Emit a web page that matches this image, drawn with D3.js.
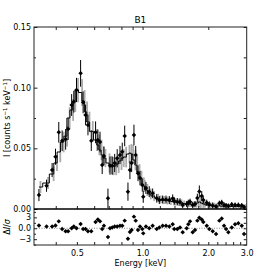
<!DOCTYPE html>
<html>
<head>
<meta charset="utf-8">
<script src="https://cdn.jsdelivr.net/npm/d3@7"></script>
<style>
body { margin: 0; background: #fff; }
text { font-family: "DejaVu Sans", sans-serif; fill: #000; }
</style>
</head>
<body>
<div id="zone_graphique"></div>
<script>
// donnees
var energie = [0.335,0.363,0.385,0.399,0.413,0.428,0.444,0.456,0.473,0.484,
    0.498,0.520,0.534,0.548,0.562,0.582,0.609,0.624,0.638,0.653,
    0.665,0.694,0.709,0.726,0.745,0.765,0.788,0.807,0.828,0.857,
    0.875,0.891,0.913,0.930,0.953,0.973,0.997,1.007,1.036,1.073,
    1.112,1.161,1.193,1.236,1.280,1.326,1.374,1.397,1.443,1.484,
    1.527,1.593,1.620,1.650,1.697,1.739,1.782,1.820,1.867,1.898,
    1.968,2.022,2.096,2.171,2.248,2.305,2.362,2.413,2.472,2.562,
    2.653,2.747,2.847,2.918];
var flux = [0.0115,0.0192,0.0321,0.0431,0.0632,0.0563,0.0574,0.0659,0.0857,0.0884,
    0.0981,0.1118,0.0879,0.0775,0.0692,0.0563,0.0632,0.0569,0.0552,0.0363,
    0.0437,0.0088,0.0357,0.0357,0.0379,0.0418,0.0445,0.0472,0.0602,0.0143,
    0.0321,0.0379,0.0610,0.0445,0.0294,0.0255,0.0198,0.0101,0.0173,0.0143,
    0.0129,0.0088,0.0074,0.0078,0.0078,0.0074,0.0087,0.0066,0.0060,0.0058,
    0.0033,0.0041,0.0052,0.0060,0.0033,0.0041,0.0091,0.0144,0.0107,0.0074,
    0.0052,0.0037,0.0029,0.0021,0.0047,0.0054,0.0033,0.0029,0.0025,0.0037,
    0.0033,0.0033,0.0029,0.0016];
var erreur = [0.0050,0.0050,0.0058,0.0066,0.0085,0.0085,0.0085,0.0090,0.0090,0.0090,
    0.0100,0.0110,0.0090,0.0085,0.0085,0.0085,0.0090,0.0085,0.0085,0.0075,
    0.0075,0.0080,0.0075,0.0075,0.0075,0.0075,0.0075,0.0075,0.0085,0.0075,
    0.0075,0.0075,0.0085,0.0075,0.0065,0.0060,0.0055,0.0050,0.0050,0.0045,
    0.0040,0.0035,0.0033,0.0033,0.0033,0.0033,0.0033,0.0030,0.0030,0.0030,
    0.0025,0.0025,0.0025,0.0025,0.0025,0.0025,0.0035,0.0050,0.0040,0.0030,
    0.0025,0.0025,0.0025,0.0022,0.0022,0.0022,0.0022,0.0020,0.0020,0.0020,
    0.0020,0.0020,0.0020,0.0018];
var modele = [0.0181,0.0214,0.0288,0.0379,0.0470,0.0552,0.0600,0.0750,0.0816,0.0890,
    0.0980,0.0960,0.0890,0.0800,0.0717,0.0640,0.0569,0.0527,0.0486,0.0445,
    0.0420,0.0379,0.0363,0.0354,0.0354,0.0371,0.0396,0.0420,0.0428,0.0453,
    0.0461,0.0453,0.0404,0.0363,0.0305,0.0255,0.0206,0.0190,0.0157,0.0124,
    0.0107,0.0091,0.0078,0.0074,0.0070,0.0066,0.0062,0.0058,0.0054,0.0049,
    0.0045,0.0041,0.0041,0.0041,0.0037,0.0037,0.0049,0.0058,0.0049,0.0041,
    0.0033,0.0029,0.0027,0.0025,0.0025,0.0023,0.0023,0.0022,0.0022,0.0021,
    0.0021,0.0021,0.0021,0.0021];
var residu = [0.74,0.46,0.46,0.74,1.9,-0.2,-0.8,-0.8,0,0.46,
    0,1.2,-0.2,-0.2,-0.8,-0.8,1.7,2.4,1.9,-0.2,
    0.7,-2.4,0,0.2,0.5,0.5,0.7,0.7,2.1,-2.9,
    -1,-0.5,3.2,2.1,-0.5,0.5,-0.2,-1.4,0.5,0,
    0.7,-0.2,0.2,0.7,0.7,0.5,1.1,-0.2,-0.2,0.2,
    -1.1,0,1.1,1.9,-1.1,-0.5,2.1,2.9,2.4,1.7,
    0.7,-0.2,-0.8,-1.6,2.1,2.7,0.7,-0.2,-1.1,0.2,
    1.1,1.4,0.7,-1.6];

var ticksY = [0, 0.05, 0.10, 0.15];
var ticksYmineurs = [0.025, 0.075, 0.125];
var ticksX = [0.5, 1.0, 2.0, 3.0];
var ticksXhaut = [0.4, 0.5, 0.6, 0.7, 0.8, 0.9, 1.0, 2.0];
var ticksXbas = [0.4, 0.5, 0.6, 0.7, 0.8, 0.9, 1.0, 1.2, 1.4, 1.6, 1.8, 2.0, 2.2, 2.4, 2.6, 2.8];
var ticksResidu = [3, 0, -3];
var ticksResiduMineurs = [4.5, 1.5, -1.5, -4.5];

var titre = "B1";

var largeur = 274;
var hauteur = 274;
var marge = {haut: 27, droite: 27.3, bas: 29, gauche: 34};
var width = largeur - marge.gauche - marge.droite;
var basPrincipal = 209; // separation des deux panneaux
var basResidu = 245;

var svg = d3.select("#zone_graphique")
    .append("svg")
        .attr("width", largeur)
        .attr("height", hauteur);

var x = d3.scaleLog()
    .domain([0.318, 3.0])
    .range([marge.gauche, marge.gauche + width]);
var y = d3.scaleLinear()
    .domain([0, 0.15])
    .range([basPrincipal, marge.haut]);
var yr = d3.scaleLinear()
    .domain([-4.6, 5.3])
    .range([basResidu, basPrincipal]);

var points = energie.map(function (e, i) {
    return {e: e, f: flux[i], err: erreur[i], m: modele[i], r: residu[i]};
});

// barres grises du modele
svg.append("g")
    .selectAll("line")
    .data(points)
    .enter()
    .append("line")
        .attr("x1", function (d) { return x(d.e) + 1.5; })
        .attr("x2", function (d) { return x(d.e) + 1.5; })
        .attr("y1", function (d) { return y(d.m - d.err); })
        .attr("y2", function (d) { return y(d.m + d.err); })
        .attr("stroke", "#ababab")
        .attr("stroke-width", 1.8);

// modele en escalier
svg.append("path")
    .datum(points)
    .attr("fill", "none")
    .attr("stroke", "#000")
    .attr("stroke-width", 1)
    .attr("d", d3.line()
        .curve(d3.curveStep)
        .x(function (d) { return x(d.e); })
        .y(function (d) { return y(d.m); }));

// barres d'erreur des donnees
svg.append("g")
    .selectAll("line")
    .data(points)
    .enter()
    .append("line")
        .attr("x1", function (d) { return x(d.e); })
        .attr("x2", function (d) { return x(d.e); })
        .attr("y1", function (d) { return y(Math.max(0, d.f - d.err)); })
        .attr("y2", function (d) { return y(d.f + d.err); })
        .attr("stroke", "#000")
        .attr("stroke-width", 1);

var losange = d3.symbol().type(d3.symbolSquare).size(10);

svg.append("g")
    .selectAll("path")
    .data(points)
    .enter()
    .append("path")
        .attr("d", losange)
        .attr("transform", function (d) { return "translate(" + x(d.e) + "," + y(d.f) + ") rotate(45)"; })
        .attr("fill", "#000");

// panneau des residus
svg.append("line")
    .attr("x1", marge.gauche).attr("x2", marge.gauche + width)
    .attr("y1", yr(0)).attr("y2", yr(0))
    .attr("stroke", "#888")
    .attr("stroke-dasharray", "1,1.5");

svg.append("g")
    .selectAll("path")
    .data(points)
    .enter()
    .append("path")
        .attr("d", losange)
        .attr("transform", function (d) { return "translate(" + x(d.e) + "," + yr(d.r) + ") rotate(45)"; })
        .attr("fill", "#000");

// axes
function nettoyer(g) {
    g.select(".domain").remove();
    g.selectAll("text").attr("font-size", "8px").attr("font-family", "DejaVu Sans, sans-serif");
    g.selectAll("line").attr("stroke", "#222");
}

svg.append("g")
    .attr("transform", "translate(" + marge.gauche + ",0)")
    .call(d3.axisLeft(y).tickValues(ticksY).tickFormat(d3.format(".2f")).tickSize(-3.5).tickPadding(3))
    .call(nettoyer);
svg.append("g")
    .attr("transform", "translate(" + marge.gauche + ",0)")
    .call(d3.axisLeft(y).tickValues(ticksYmineurs).tickFormat("").tickSize(-2))
    .call(nettoyer);
svg.append("g")
    .attr("transform", "translate(" + (marge.gauche + width) + ",0)")
    .call(d3.axisRight(y).tickValues(ticksY.concat(ticksYmineurs)).tickFormat("").tickSize(-3))
    .call(nettoyer);

svg.append("g")
    .attr("transform", "translate(0," + marge.haut + ")")
    .call(d3.axisTop(x).tickValues(ticksXhaut).tickFormat("").tickSize(-3))
    .call(nettoyer);
svg.append("g")
    .attr("transform", "translate(0," + basPrincipal + ")")
    .call(d3.axisBottom(x).tickValues(ticksXbas).tickFormat("").tickSize(-3))
    .call(nettoyer);
svg.append("g")
    .attr("transform", "translate(0," + basResidu + ")")
    .call(d3.axisBottom(x).tickValues(ticksXbas).tickFormat("").tickSize(-3))
    .call(nettoyer);
svg.append("g")
    .attr("transform", "translate(0," + basResidu + ")")
    .call(d3.axisBottom(x).tickValues(ticksX).tickFormat(d3.format(".1f")).tickSize(0).tickPadding(5))
    .call(nettoyer);

svg.append("g")
    .attr("transform", "translate(" + marge.gauche + ",0)")
    .call(d3.axisLeft(yr).tickValues(ticksResidu).tickFormat(function (d) { return d === 0 ? "0.0" : d3.format("d")(d).replace("-", "\u2212"); }).tickSize(-3).tickPadding(3))
    .call(nettoyer);
svg.append("g")
    .attr("transform", "translate(" + marge.gauche + ",0)")
    .call(d3.axisLeft(yr).tickValues(ticksResiduMineurs).tickFormat("").tickSize(-2))
    .call(nettoyer);
svg.append("g")
    .attr("transform", "translate(" + (marge.gauche + width) + ",0)")
    .call(d3.axisRight(yr).tickValues(ticksResidu.concat(ticksResiduMineurs)).tickFormat("").tickSize(-3))
    .call(nettoyer);

// cadres
svg.append("rect")
    .attr("x", marge.gauche).attr("y", marge.haut)
    .attr("width", width).attr("height", basResidu - marge.haut)
    .attr("fill", "none").attr("stroke", "#222").attr("stroke-width", 1);
svg.append("line")
    .attr("x1", marge.gauche).attr("x2", marge.gauche + width)
    .attr("y1", basPrincipal).attr("y2", basPrincipal)
    .attr("stroke", "#000").attr("stroke-width", 1.6);

// textes
svg.append("text")
    .attr("x", marge.gauche + width / 2)
    .attr("y", 23)
    .attr("text-anchor", "middle")
    .attr("font-size", "9px")
    .text(titre);

svg.append("text")
    .attr("x", marge.gauche + width / 2)
    .attr("y", 266)
    .attr("text-anchor", "middle")
    .attr("font-size", "8px")
    .text("Energy [keV]");

var labelY = svg.append("text")
    .attr("transform", "translate(10," + ((marge.haut + basPrincipal) / 2) + ") rotate(-90)")
    .attr("text-anchor", "middle")
    .attr("font-size", "8px");
labelY.append("tspan").text("I [counts s");
labelY.append("tspan").attr("font-size", "5.5px").attr("dy", "-3").text("\u22121");
labelY.append("tspan").attr("dy", "3").text(" keV");
labelY.append("tspan").attr("font-size", "5.5px").attr("dy", "-3").text("\u22121");
labelY.append("tspan").attr("dy", "3").text("]");

var labelR = svg.append("text")
    .attr("transform", "translate(10," + ((basPrincipal + basResidu) / 2) + ") rotate(-90)")
    .attr("text-anchor", "middle")
    .attr("font-size", "8px");
labelR.append("tspan").text("\u0394");
labelR.append("tspan").attr("font-style", "italic").text("I");
labelR.append("tspan").text("/");
labelR.append("tspan").attr("font-style", "italic").text("\u03c3");
</script>
</body>
</html>
